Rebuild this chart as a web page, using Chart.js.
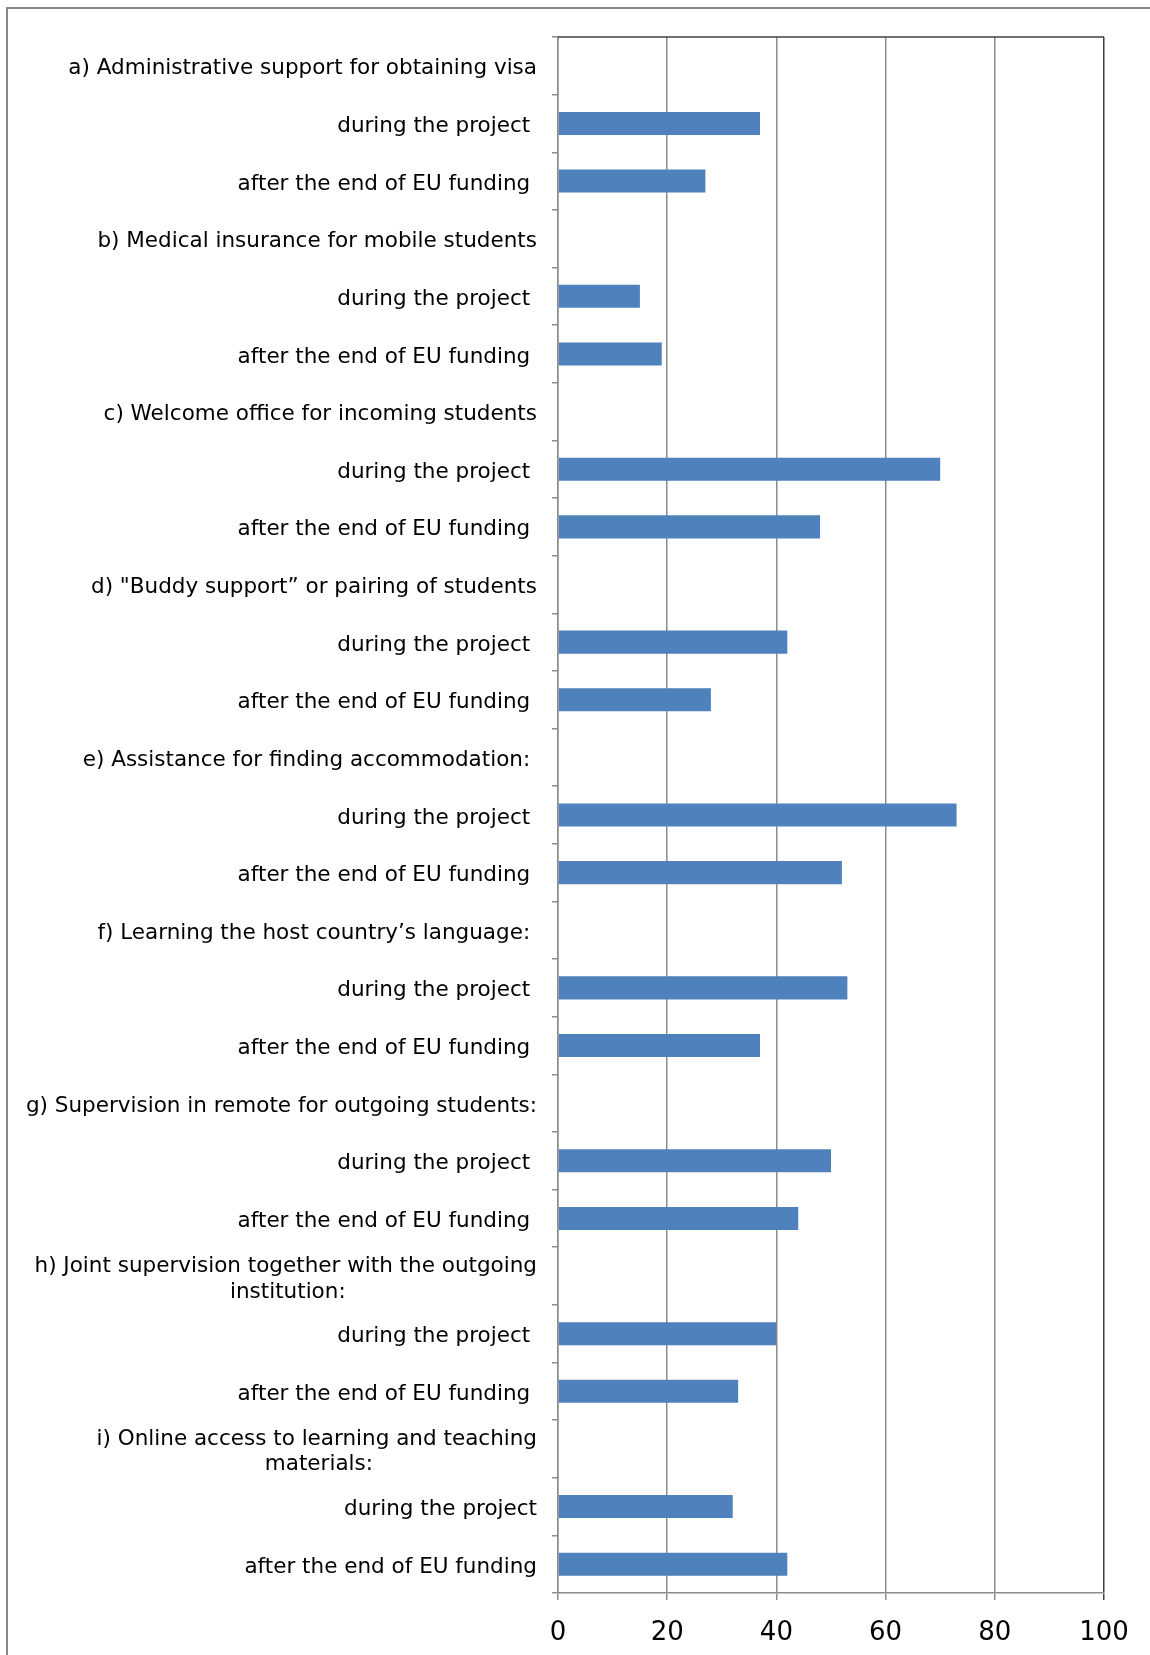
<!DOCTYPE html>
<html>
<head>
<meta charset="utf-8">
<script src="https://cdn.jsdelivr.net/npm/chart.js@4/dist/chart.umd.min.js"></script>
<style>
  html, body { margin: 0; padding: 0; background: #fff; }
  #wrap { position: relative; width: 1150px; height: 1655px; }
  #frame { position: absolute; left: 6px; top: 7px; right: -10px; bottom: -10px;
           border-left: 2px solid #8a8a8a; border-top: 2px solid #8a8a8a; }
  canvas { position: absolute; left: 0; top: 0; }
</style>
</head>
<body>
<div id="wrap">
  <div id="frame"></div>
  <canvas id="chart" width="1150" height="1655"></canvas>
</div>
<script>
// Kategorie (nagłówki grup)
const groups = [
  ['a) Administrative support for obtaining visa'],
  ['b) Medical insurance for mobile students'],
  ['c) Welcome office for incoming students'],
  ['d) "Buddy support\u201d or pairing of students'],
  ['e) Assistance for finding accommodation: '],
  ['f) Learning the host country\u2019s language: '],
  ['g) Supervision in remote for outgoing students:'],
  ['h) Joint supervision together with the outgoing', 'institution:'],
  ['i) Online access to learning and teaching', 'materials:']
];
const subLabels = ['during the project ', 'after the end of EU funding '];
const subLabelsLast = ['during the project', 'after the end of EU funding'];

// Wartości
const during = [37, 15, 70, 42, 73, 53, 50, 40, 32];
const after  = [27, 19, 48, 28, 52, 37, 44, 33, 42];

const xTicks = [0, 20, 40, 60, 80, 100];

const labelSize = 21.5;
const measure = document.createElement('canvas').getContext('2d');
measure.font = labelSize + 'px "DejaVu Sans"';

// druga linia wyśrodkowana pod pierwszą (etykiety są wyrównane do prawej)
function centerLines(lines){
  if(lines.length < 2) return lines[0];
  const w0 = measure.measureText(lines[0]).width;
  const sp = measure.measureText(' ').width;
  return lines.map((l, i) => {
    if(i === 0) return l;
    const w = measure.measureText(l).width;
    const n = Math.max(0, Math.round((w0 - w) / 2 / sp));
    return l + ' '.repeat(n);
  });
}

const labels = [];
const values = [];
groups.forEach((g, i) => {
  const subs = i === groups.length - 1 ? subLabelsLast : subLabels;
  labels.push(centerLines(g));
  values.push(null);
  labels.push(subs[0]);
  values.push(during[i]);
  labels.push(subs[1]);
  values.push(after[i]);
});

// górna krawędź obszaru wykresu + lekkie przesunięcie etykiet osi Y w dół
const frameTop = {
  id: 'frameTop',
  beforeDraw(chart){
    const y = chart.scales.y;
    if(!y._shifted){
      const orig = y.drawLabels.bind(y);
      y.drawLabels = function(area){
        const c = this.ctx;
        c.save();
        c.translate(0, 3);
        orig(area);
        c.restore();
      };
      y._shifted = true;
    }
  },
  afterDraw(chart){
    const a = chart.chartArea, c = chart.ctx;
    c.save();
    c.strokeStyle = '#404040';
    c.lineWidth = 1.5;
    c.beginPath();
    c.moveTo(a.left, a.top);
    c.lineTo(a.right, a.top);
    c.stroke();
    c.restore();
  }
};

new Chart(document.getElementById('chart').getContext('2d'), {
  type: 'bar',
  data: {
    labels: labels,
    datasets: [{ data: values, backgroundColor: '#4F81BD', borderWidth: 0,
                 categoryPercentage: 1, barPercentage: 0.4 }]
  },
  options: {
    indexAxis: 'y',
    responsive: false,
    animation: false,
    layout: { padding: { left: 0, top: 37, right: 46, bottom: 0 } },
    plugins: { legend: { display: false }, tooltip: { enabled: false } },
    scales: {
      x: {
        min: 0, max: 100,
        afterBuildTicks: s => { s.ticks = xTicks.map(v => ({ value: v })); },
        afterFit: s => { s.height = 62; },
        ticks: { font: { family: 'DejaVu Sans', size: 26 }, color: '#000', padding: 18 },
        grid: {
          color: ctx => ctx.tick && ctx.tick.value === 100 ? '#404040' : '#8c8c8c',
          lineWidth: 1.5,
          tickLength: 7
        },
        border: { color: '#8c8c8c', width: 1.5 }
      },
      y: {
        afterFit: s => { s.width = 558; },
        ticks: { font: { family: 'DejaVu Sans', size: labelSize, lineHeight: 1.2 }, color: '#000',
                 autoSkip: false, padding: 15 },
        grid: { drawOnChartArea: false, color: '#8c8c8c', lineWidth: 1.5, tickLength: 6, offset: true },
        border: { color: '#8c8c8c', width: 1.5 }
      }
    }
  },
  plugins: [frameTop]
});
</script>
</body>
</html>
